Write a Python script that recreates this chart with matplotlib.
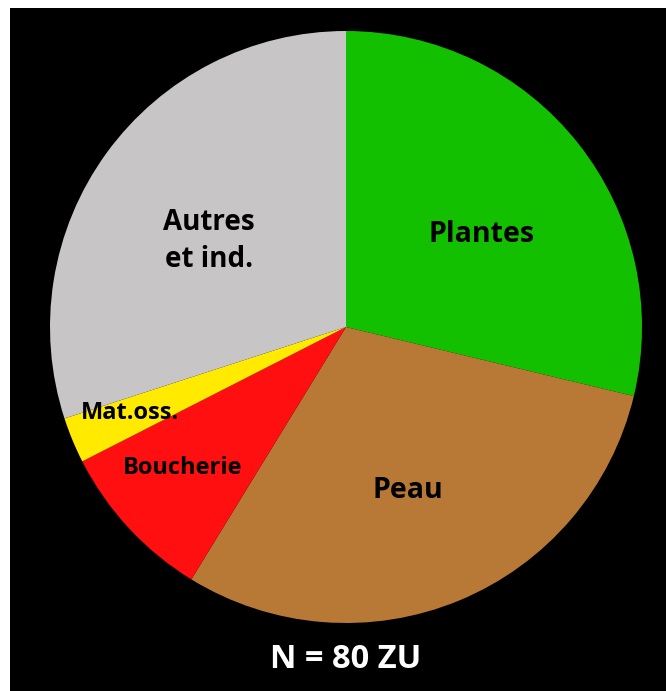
import matplotlib.pyplot as plt
from matplotlib.patches import Rectangle

# number of units per category (N = 80)
categories = ['Plantes', 'Peau', 'Boucherie', 'Mat.oss.', 'Autres\net ind.']
counts = [23, 24, 7, 2, 24]
colors = ['#13C000', '#B97936', '#FF0F0F', '#FFEA00', '#C7C5C5']
total_label = 'N = 80 ZU'

W, H = 666, 691
fig = plt.figure(figsize=(W / 100, H / 100), dpi=100)
fig.patch.set_facecolor('white')

# black panel behind the pie
fig.add_artist(Rectangle((10 / W, 0), 656 / W, 683 / H, transform=fig.transFigure,
                         facecolor='black', edgecolor='none', zorder=0))

ax = fig.add_axes([0, 0, 1, 1])
ax.set_facecolor('none')

cx, cy, r = 346, H - 327, 296
ax.pie(counts, colors=colors, startangle=90, counterclock=False,
       center=(cx, cy), radius=r, frame=True,
       wedgeprops=dict(linewidth=0))
ax.set_xlim(0, W)
ax.set_ylim(0, H)
ax.set_aspect('equal')
ax.axis('off')

font = 'Open Sans'
label_pos = [(482, 234), (408, 491), (183, 468), (130, 413), (209, 241)]
label_size = [20.5, 20.5, 17, 17, 20]
for name, (px, py), fs in zip(categories, label_pos, label_size):
    ax.text(px, H - py, name, ha='center', va='center', fontsize=fs,
            fontweight='bold', family=font, color='black', linespacing=1.4)

ax.text(346, H - 660, total_label, ha='center', va='center', fontsize=23.5,
        fontweight='bold', family=font, color='white')

fig.savefig('out.png', dpi=100, facecolor=fig.get_facecolor())
